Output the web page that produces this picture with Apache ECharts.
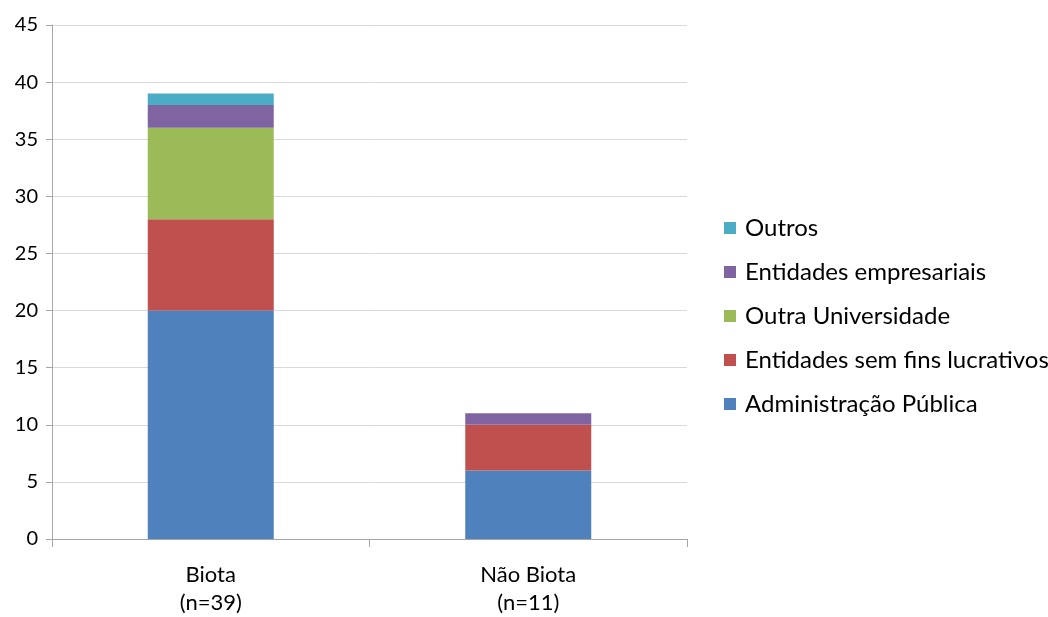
<!DOCTYPE html>
<html>
<head>
<meta charset="utf-8">
<script src="https://cdn.jsdelivr.net/npm/echarts@6/dist/echarts.min.js"></script>
<style>
  html, body { margin: 0; padding: 0; background: #fff; }
  #chart { width: 1048px; height: 617px; }
</style>
</head>
<body>
<div id="chart"></div>
<script>
var categories = ['Biota\n(n=39)', 'Não Biota\n(n=11)'];
var adminPublica = [20, 6];
var semFinsLucrativos = [8, 4];
var outraUniversidade = [8, 0];
var empresariais = [2, 1];
var outros = [1, 0];
var legendOrder = ['Outros', 'Entidades empresariais', 'Outra Universidade', 'Entidades sem fins lucrativos', 'Administração Pública'];

var chart = echarts.init(document.getElementById('chart'));
var font = 'Lato, "Open Sans", sans-serif';

function bar(name, data, color) {
    return {
        name: name,
        type: 'bar',
        stack: 'total',
        barWidth: 126,
        data: data,
        itemStyle: { color: color }
    };
}

var option = {
    animation: false,
    grid: { left: 52, right: 361, top: 25, bottom: 76 },
    legend: {
        data: legendOrder,
        orient: 'vertical',
        left: 719,
        top: 211,
        itemWidth: 12,
        itemHeight: 12,
        itemGap: 20,
        icon: 'rect',
        textStyle: { fontSize: 24, color: '#000', fontFamily: font, padding: [0, 0, 0, 4] }
    },
    xAxis: {
        type: 'category',
        data: categories,
        axisLine: { lineStyle: { color: '#a6a6a6', width: 1 } },
        axisTick: { show: true, length: 8, lineStyle: { color: '#a6a6a6' } },
        axisLabel: { fontSize: 22, color: '#000', fontFamily: font, lineHeight: 28, margin: 22 }
    },
    yAxis: {
        type: 'value',
        min: 0,
        max: 45,
        interval: 5,
        axisLine: { show: true, lineStyle: { color: '#a6a6a6', width: 1 } },
        axisTick: { show: true, length: 6, lineStyle: { color: '#a6a6a6' } },
        splitLine: { lineStyle: { color: '#d9d9d9' } },
        axisLabel: { fontSize: 20, color: '#000', fontFamily: font, margin: 14 }
    },
    series: [
        bar('Administração Pública', adminPublica, '#4f81bd'),
        bar('Entidades sem fins lucrativos', semFinsLucrativos, '#c0504d'),
        bar('Outra Universidade', outraUniversidade, '#9bbb59'),
        bar('Entidades empresariais', empresariais, '#8064a2'),
        bar('Outros', outros, '#4bacc6')
    ]
};

chart.setOption(option);
</script>
</body>
</html>
